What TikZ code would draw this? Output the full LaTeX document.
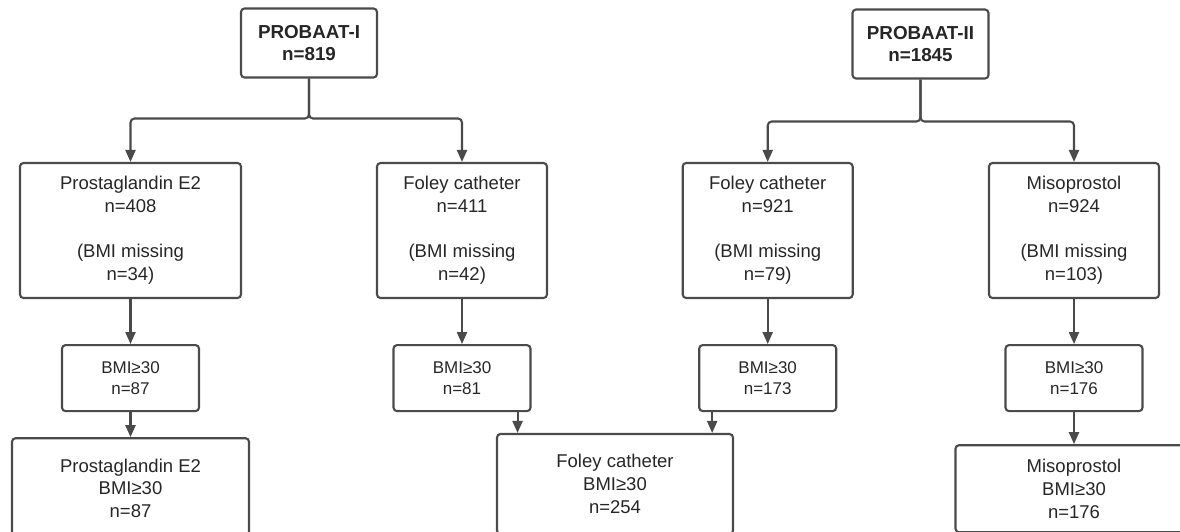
\documentclass[tikz,border=0pt]{standalone}
\usepackage{fontspec}
\setmainfont{Liberation Sans}
\usepackage{tikz}
\usetikzlibrary{positioning,arrows.meta}

\definecolor{linegray}{HTML}{4A4A4A}
\definecolor{textgray}{HTML}{262626}

\begin{document}
\begin{tikzpicture}[
  x=1pt, y=-1pt,
  node distance=45pt,
  box/.style={draw=linegray, line width=2.1pt, rounded corners=3.5pt, align=center,
              inner sep=0pt, text=textgray, font=\fontsize{18.5}{22.7}\selectfont},
  head/.style={box, minimum width=136pt, minimum height=69pt,
               font=\fontsize{18.8}{21.7}\selectfont\bfseries},
  arm/.style={box, minimum width=170pt, minimum height=135pt},
  sub/.style={box, minimum width=137pt, minimum height=66pt,
              font=\fontsize{17}{21}\selectfont},
  pool/.style={box, minimum width=237pt, minimum height=100pt},
  flow/.style={-{Triangle[length=12pt,width=10pt]}, draw=linegray, line width=2.1pt,
               rounded corners=4pt}
]
\useasboundingbox (0,0) rectangle (1180,531);

\node[head] (p1) at (309,43) {PROBAAT-I\\n=819};
\node[head] (p2) at (920.5,44) {PROBAAT-II\\n=1845};

\node[arm, minimum width=221pt] (pge) at (130.5,230.5) {Prostaglandin E2\\n=408\\[22.7pt](BMI missing\\n=34)};
\node[arm] (fol1) at (462,230.5) {Foley catheter\\n=411\\[22.7pt](BMI missing\\n=42)};
\node[arm] (fol2) at (767.7,230.5) {Foley catheter\\n=921\\[22.7pt](BMI missing\\n=79)};
\node[arm] (miso) at (1074,230.5) {Misoprostol\\n=924\\[22.7pt](BMI missing\\n=103)};

\node[sub, below=of pge] (pgeb) {BMI≥30\\n=87};
\node[sub, below=of fol1] (fol1b) {BMI≥30\\n=81};
\node[sub, below=of fol2] (fol2b) {BMI≥30\\n=173};
\node[sub, below=of miso] (misob) {BMI≥30\\n=176};

\node[pool, below=25pt of pgeb] (pgeall) {Prostaglandin E2\\BMI≥30\\n=87};
\node[pool, minimum width=236pt] (folall) at (615,484) {Foley catheter\\BMI≥30\\n=254};
\node[pool, minimum height=87pt, below=32pt of misob] (misoall) {Misoprostol\\BMI≥30\\n=176};

\coordinate (j1) at (309,118.5);
\coordinate (j2) at (920.5,121.5);

\draw[flow] (p1.south) -- (j1) -| (pge.north);
\draw[flow] (p1.south) -- (j1) -| (fol1.north);
\draw[flow] (p2.south) -- (j2) -| (fol2.north);
\draw[flow] (p2.south) -- (j2) -| (miso.north);

\draw[flow] (pge) -- (pgeb);
\draw[flow] (fol1) -- (fol1b);
\draw[flow] (fol2) -- (fol2b);
\draw[flow] (miso) -- (misob);

\draw[flow] (pgeb) -- (pgeall);
\draw[flow] ([xshift=-14pt]fol1b.south east) -- ([xshift=-14pt]fol1b.south east |- folall.north);
\draw[flow] ([xshift=14pt]fol2b.south west) -- ([xshift=14pt]fol2b.south west |- folall.north);
\draw[flow] (misob) -- (misoall);
\end{tikzpicture}
\end{document}
